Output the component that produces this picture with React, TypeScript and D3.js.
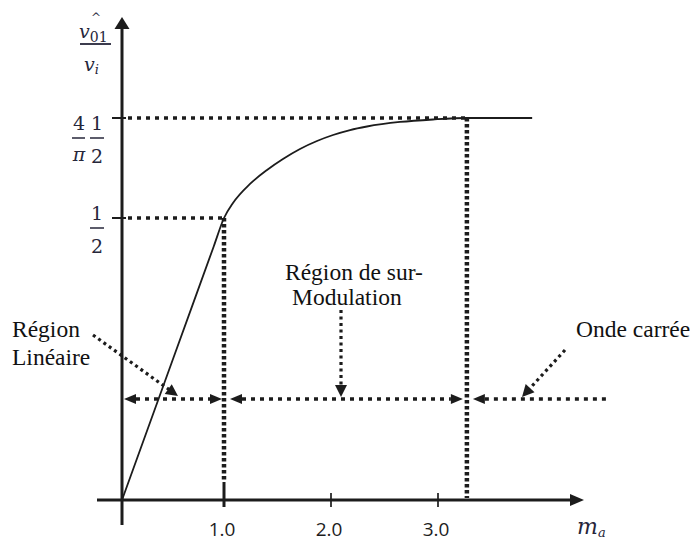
import React from "react";
import * as d3 from "d3";

// Normalised fundamental output v̂01 / vi versus modulation index ma
const modIndex = [0, 0.5, 0.9, 1.0, 1.084, 1.243, 1.402, 1.551, 1.71, 1.869, 2.019, 2.178, 2.336, 2.645, 2.953, 3.27, 3.88];
const gainRatio = [0, 0.25, 0.45, 0.5, 0.5205, 0.5465, 0.5656, 0.5806, 0.5943, 0.6052, 0.6134, 0.6202, 0.625, 0.6312, 0.6346, 0.6366, 0.6366];

const xTicks = [1.0, 2.0, 3.0];
const xTickLabels = ["1.0", "2.0", "3.0"];

// Region boundaries on the ma axis and reference levels on the ratio axis
const linearLimit = 1.0;
const squareWaveLimit = 3.27;
const halfLevel = 0.5;
const saturationLevel = 2 / Math.PI; // (4/π)·(1/2)
const rowEnd = 4.59;

const W = 690;
const H = 541;

const INK = "#1c1c1c";
const MATH_INK = "#26263a";
const SERIF = "'Liberation Serif', 'Times New Roman', serif";
const MATH = "'DejaVu Serif', serif";

const x = d3.scaleLinear().domain([0, 1, 3]).range([122, 224, 438]);
const y = d3.scaleLinear().domain([0, 0.5, 2 / Math.PI]).range([500, 218, 118]);

function head(tipX: number, tipY: number, fromX: number, fromY: number, len = 12, half = 5) {
  const a = Math.atan2(tipY - fromY, tipX - fromX);
  const bx = tipX - len * Math.cos(a);
  const by = tipY - len * Math.sin(a);
  const px = -Math.sin(a) * half;
  const py = Math.cos(a) * half;
  return `M${tipX},${tipY}L${bx + px},${by + py}L${bx - px},${by - py}Z`;
}

function shorten(x1: number, y1: number, x2: number, y2: number, d: number) {
  const a = Math.atan2(y2 - y1, x2 - x1);
  return [x2 - d * Math.cos(a), y2 - d * Math.sin(a)];
}

export default function App() {
  const pts = modIndex.map((m, i) => [m, gainRatio[i]] as [number, number]);
  const curve = d3
    .line<[number, number]>()
    .x((d) => x(d[0]))
    .y((d) => y(d[1]))
    .curve(d3.curveMonotoneX)(pts) as string;

  const axisY = y(0);
  const axisX = x(0);
  const rowY = 399;

  // region arrows on the dotted row
  const segments: [number, number, boolean, boolean][] = [
    [x(0) + 2, x(linearLimit) - 2, true, true],
    [x(linearLimit) + 6, x(squareWaveLimit) - 4, true, true],
    [x(squareWaveLimit) + 6, x(rowEnd), true, false],
  ];

  // pointer arrows from labels to the row
  const pointers: [number, number, number, number][] = [
    [93, 335, 178, 396],
    [341, 310, 341, 397],
    [565, 350, 522, 397],
  ];

  return (
    <svg width={W} height={H} style={{ position: "absolute", left: 0, top: 0, background: "#fff" }}>
      {/* dotted reference lines */}
      <g fill="none" stroke={INK}>
        <line x1={axisX + 6} x2={x(squareWaveLimit)} y1={y(saturationLevel)} y2={y(saturationLevel)} strokeWidth={3.5} strokeDasharray="4 5" />
        <line x1={axisX + 6} x2={x(linearLimit)} y1={y(halfLevel)} y2={y(halfLevel)} strokeWidth={3.5} strokeDasharray="4 5" />
        <line x1={x(linearLimit)} x2={x(linearLimit)} y1={y(halfLevel)} y2={axisY - 18} strokeWidth={4.5} strokeDasharray="3.5 2.5" />
        <line x1={x(squareWaveLimit)} x2={x(squareWaveLimit)} y1={y(saturationLevel)} y2={axisY - 2} strokeWidth={4.5} strokeDasharray="3.5 2.5" />
      </g>

      {/* region row */}
      <g>
        {segments.map(([a, b, l, r], i) => (
          <g key={i}>
            <line x1={l ? a + 12 : a} x2={r ? b - 12 : b} y1={rowY} y2={rowY} stroke={INK} strokeWidth={3.3} strokeDasharray="4 5" />
            {l && <path d={head(a, rowY, a + 20, rowY, 12, 5)} fill={INK} />}
            {r && <path d={head(b, rowY, b - 20, rowY, 12, 5)} fill={INK} />}
          </g>
        ))}
        {pointers.map(([x1, y1, x2, y2], i) => {
          const [ex, ey] = shorten(x1, y1, x2, y2, 10);
          return (
            <g key={i}>
              <line x1={x1} y1={y1} x2={ex} y2={ey} stroke={INK} strokeWidth={3.2} strokeDasharray="3 3.5" />
              <path d={head(x2, y2, x1, y1, 12, 6)} fill={INK} />
            </g>
          );
        })}
      </g>

      {/* axes */}
      <g stroke={INK}>
        <line x1={97} x2={573} y1={axisY} y2={axisY} strokeWidth={3} />
        <path d={head(584, axisY, 500, axisY, 14, 6)} fill={INK} stroke="none" />
        <line x1={axisX} x2={axisX} y1={525} y2={28} strokeWidth={3} />
        <path d={head(axisX, 17, axisX, 100, 12, 7.5)} fill={INK} stroke="none" />
        {xTicks.map((t, i) => (
          <line key={t} x1={x(t)} x2={x(t)} y1={i === 0 ? axisY - 18 : axisY - 7} y2={axisY + 7} strokeWidth={i === 0 ? 3 : 1.7} />
        ))}
        {[saturationLevel, halfLevel].map((v) => (
          <line key={v} x1={axisX - 10} x2={axisX + 4} y1={y(v)} y2={y(v)} strokeWidth={2} />
        ))}
      </g>

      {/* response curve */}
      <path d={curve} fill="none" stroke={INK} strokeWidth={1.8} />

      {/* x tick labels */}
      <g fontFamily="'Open Sans', sans-serif" fontSize={19} fill={INK} textAnchor="middle">
        {xTicks.map((t, i) => (
          <text key={t} x={x(t) - 2} y={535.5}>
            {xTickLabels[i]}
          </text>
        ))}
      </g>

      {/* y tick labels */}
      <g fontFamily={MATH} fontSize={19} fill={MATH_INK} textAnchor="middle">
        <text x={79} y={130}>4</text>
        <line x1={72} x2={85} y1={138} y2={138} stroke={MATH_INK} strokeWidth={1.5} />
        <text x={79} y={161} fontStyle="italic">π</text>
        <text x={97} y={130}>1</text>
        <line x1={90} x2={104} y1={138} y2={138} stroke={MATH_INK} strokeWidth={1.5} />
        <text x={97} y={163}>2</text>

        <text x={97} y={220}>1</text>
        <line x1={90} x2={104} y1={228} y2={228} stroke={MATH_INK} strokeWidth={1.5} />
        <text x={97} y={253}>2</text>
      </g>

      {/* y axis title */}
      <g fontFamily={MATH} fill={MATH_INK}>
        <text x={96} y={22} fontSize={12} textAnchor="middle">^</text>
        <text x={79} y={38} fontSize={19} fontStyle="italic">
          v<tspan fontSize={14} fontStyle="normal" dy={4}>01</tspan>
        </text>
        <line x1={80} x2={111} y1={44} y2={44} stroke={MATH_INK} strokeWidth={1.8} />
        <text x={84} y={71} fontSize={19} fontStyle="italic">
          v<tspan fontSize={13} dy={3}>i</tspan>
        </text>
      </g>

      {/* x axis title */}
      <text x={577} y={534} fontFamily={MATH} fontSize={22} fontStyle="italic" fill={MATH_INK}>
        m<tspan fontSize={13} dy={3}>a</tspan>
      </text>

      {/* region annotations */}
      <g fontFamily={SERIF} fontSize={23.5} fill="#111">
        <text x={12} y={337}>Région</text>
        <text x={12} y={365}>Linéaire</text>
        <text x={285} y={280}>Région de sur-</text>
        <text x={292} y={305}>Modulation</text>
        <text x={576} y={337}>Onde carrée</text>
      </g>
    </svg>
  );
}
